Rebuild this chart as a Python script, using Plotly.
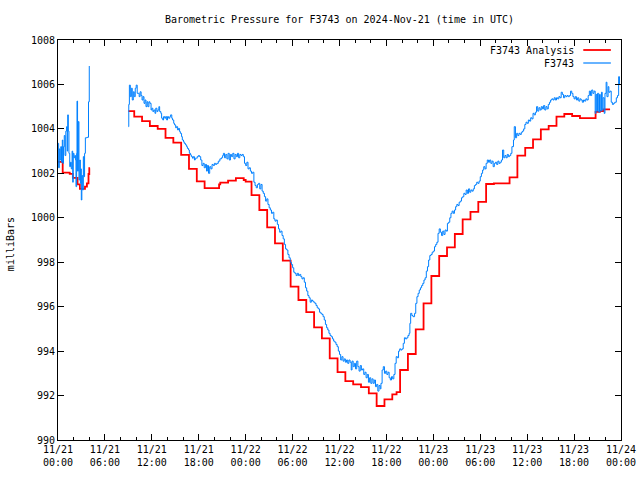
import plotly.graph_objects as go

# ---------------- data (hours since 2024-11-21 00:00 UTC, millibars) ----------------
tick_hours = [0, 6, 12, 18, 24, 30, 36, 42, 48, 54, 60, 66, 72]
tick_labels = ["11/21<br>00:00", "11/21<br>06:00", "11/21<br>12:00", "11/21<br>18:00",
               "11/22<br>00:00", "11/22<br>06:00", "11/22<br>12:00", "11/22<br>18:00",
               "11/23<br>00:00", "11/23<br>06:00", "11/23<br>12:00", "11/23<br>18:00",
               "11/24<br>00:00"]

# F3743 Analysis (step values; None = gap)
analysis_hours = [0, 0.6, 1.5, 1.9, 2.5, 2.8, 3.45, 3.7, 3.9, 4.0, 4.1, 6.0,
                  9.0, 9.75, 10.75, 11.75, 12.75, 13.75, 14.75, 15.75, 16.75, 17.75,
                  18.75, 19.75, 20.6, 20.75, 21.75, 22.75, 23.75, 24.0, 24.75, 25.75,
                  26.75, 27.75, 28.75, 29.75, 30.75, 31.75, 32.75, 33.75, 34.75, 35.75,
                  36.75, 37.75, 38.75, 39.75, 40.75, 41.75, 42.75, 43.3, 43.75, 44.75,
                  45.75, 46.75, 47.75, 48.75, 49.75, 50.75, 51.75, 52.75, 53.75, 54.75,
                  55.75, 56.75, 57.75, 58.75, 59.75, 60.75, 61.75, 62.75, 63.75, 64.75,
                  65.75, 66.75, 67.75, 68.75, 69.3, 69.75, 70.6]
analysis_mbar = [1002.52, 1002.03, 1001.98, 1001.8, 1001.5, 1001.3, 1001.4, 1001.55, 1001.97, 1002.23, 1002.23, None,
                 1004.8, 1004.55, 1004.35, 1004.13, 1004.0, 1003.6, 1003.38, 1002.83, 1002.2, 1001.64,
                 1001.33, 1001.33, 1001.5, 1001.58, 1001.67, 1001.78, 1001.7, 1001.63, 1001.02, 1000.35,
                 999.57, 998.85, 998.07, 996.9, 996.3, 995.75, 995.07, 994.57, 993.67, 993.05,
                 992.65, 992.5, 992.38, 992.1, 991.53, 991.83, 992.05, 992.15, 993.15, 993.87,
                 994.98, 996.15, 997.38, 998.28, 998.67, 999.27, 999.93, 1000.27, 1000.72, 1001.52,
                 1001.55, 1001.55, 1001.82, 1002.8, 1003.15, 1003.53, 1003.98, 1004.14, 1004.55, 1004.67,
                 1004.58, 1004.48, 1004.48, 1004.77, 1004.8, 1004.88, 1004.88]

# F3743 observations
obs_hours = [
    0.0, 0.08, 0.17, 0.25, 0.35, 0.45, 0.55, 0.62, 0.7, 0.8, 0.9, 1.0, 1.1, 1.18, 1.24, 1.32,
    1.4, 1.5, 1.6, 1.7, 1.8, 1.88, 1.95, 2.05, 2.15, 2.25, 2.3, 2.38, 2.43, 2.5, 2.6, 2.68,
    2.78, 2.86, 2.92, 2.98, 3.05, 3.15, 3.24, 3.32, 3.4, 3.5, 3.7, 3.85, 3.9, 4.0, 6.0,
    9.0, 9.05, 9.13, 9.25, 9.38, 9.5, 9.63, 9.75, 9.88, 10.0, 10.13, 10.25, 10.38, 10.5, 10.63,
    10.75, 10.88, 11.0, 11.13, 11.25, 11.38, 11.5, 11.63, 11.75, 11.9, 12.0, 12.13, 12.25, 12.4,
    12.5, 12.65, 12.77, 12.9, 13.0, 13.15, 13.25, 13.4, 13.5, 13.65, 13.77, 13.9, 14.0, 14.15,
    14.3, 14.4, 14.55, 14.65, 14.8, 14.9, 15.05, 15.15, 15.3, 15.4, 15.55, 15.65, 15.8, 15.9,
    16.05, 16.15, 16.3, 16.45, 16.55, 16.7, 16.8, 16.95, 17.05, 17.2, 17.3, 17.45, 17.55, 17.7,
    17.8, 17.95, 18.1, 18.25, 18.4, 18.55, 18.7, 18.85, 19.0, 19.1, 19.25, 19.4, 19.55, 19.7,
    19.85, 20.0, 20.15, 20.3, 20.5, 20.7, 20.9, 21.05, 21.15, 21.3, 21.45, 21.6, 21.75, 21.9,
    22.05, 22.2, 22.35, 22.5, 22.65, 22.8, 22.95, 23.1, 23.25, 23.4, 23.55, 23.7, 23.85, 24.0,
    24.15, 24.3, 24.45, 24.6, 24.75, 24.9, 25.05, 25.2, 25.35, 25.5, 25.65, 25.8, 25.95, 26.1,
    26.25, 26.4, 26.55, 26.7, 26.85, 27.0, 27.15, 27.3, 27.45, 27.6, 27.75, 27.9, 28.05, 28.2,
    28.35, 28.5, 28.65, 28.8, 28.95, 29.1, 29.25, 29.4, 29.55, 29.7, 29.85, 30.0, 30.15, 30.3,
    30.45, 30.6, 30.75, 30.9, 31.05, 31.2, 31.35, 31.5, 31.65, 31.8, 31.95, 32.1, 32.25, 32.4,
    32.55, 32.7, 32.85, 33.0, 33.15, 33.3, 33.45, 33.6, 33.75, 33.9, 34.05, 34.2, 34.35, 34.5,
    34.65, 34.8, 34.95, 35.1, 35.25, 35.4, 35.55, 35.7, 35.85, 36.0, 36.15, 36.3, 36.45, 36.6,
    36.75, 36.9, 37.05, 37.2, 37.35, 37.5, 37.6, 37.75, 37.9, 38.05, 38.2, 38.35, 38.5, 38.65,
    38.8, 38.95, 39.1, 39.25, 39.4, 39.55, 39.7, 39.85, 40.0, 40.15, 40.3, 40.45, 40.6, 40.75,
    40.9, 41.05, 41.2, 41.3, 41.45, 41.6, 41.75, 41.9, 42.05, 42.2, 42.35, 42.5, 42.65, 42.8,
    42.95, 43.1, 43.25, 43.4, 43.55, 43.7, 43.85, 44.0, 44.15, 44.3, 44.45, 44.6, 44.75, 44.9,
    45.0, 45.1, 45.25, 45.4, 45.6, 45.75, 45.9, 46.05, 46.2, 46.35, 46.5, 46.65, 46.8, 46.95,
    47.1, 47.25, 47.4, 47.55, 47.7, 47.85, 48.0, 48.15, 48.3, 48.45, 48.6, 48.75, 48.9, 49.05,
    49.2, 49.35, 49.5, 49.65, 49.8, 49.95, 50.1, 50.25, 50.4, 50.55, 50.7, 50.85, 51.0, 51.15,
    51.3, 51.45, 51.6, 51.75, 51.9, 52.05, 52.2, 52.35, 52.5, 52.65, 52.8, 52.95, 53.1, 53.25,
    53.4, 53.55, 53.7, 53.85, 54.0, 54.15, 54.3, 54.45, 54.6, 54.75, 54.9, 55.05, 55.2, 55.35,
    55.5, 55.65, 55.8, 55.95, 56.1, 56.25, 56.4, 56.55, 56.7, 56.85, 57.0, 57.15, 57.3, 57.45,
    57.6, 57.75, 57.9, 58.05, 58.25, 58.35, 58.5, 58.65, 58.8, 58.95, 59.1, 59.25, 59.4, 59.55,
    59.7, 59.85, 60.0, 60.15, 60.3, 60.45, 60.6, 60.75, 60.9, 61.05, 61.2, 61.35, 61.5, 61.65,
    61.8, 61.95, 62.1, 62.25, 62.4, 62.55, 62.7, 62.85, 63.0, 63.15, 63.3, 63.45, 63.6, 63.75,
    63.9, 64.05, 64.2, 64.35, 64.5, 64.65, 64.8, 64.95, 65.1, 65.25, 65.4, 65.55, 65.7, 65.85,
    66.0, 66.15, 66.3, 66.45, 66.6, 66.75, 66.9, 67.05, 67.2, 67.35, 67.5, 67.65, 67.8, 67.95,
    68.1, 68.25, 68.4, 68.55, 68.7, 68.8, 68.9, 69.0, 69.15, 69.25, 69.35, 69.5, 69.6, 69.7,
    69.85, 69.95, 70.1, 70.2, 70.35, 70.45, 70.6, 70.75, 70.9, 71.05, 71.2, 71.4, 71.55, 71.7,
    71.8]
obs_mbar = [
    1003.35, 1002.25, 1003.1, 1002.6, 1003.2, 1002.5, 1003.5, 1002.45, 1003.2, 1003.7, 1002.8, 1003.9, 1004.1, 1003.0, 1004.63, 1003.9,
    1002.9, 1002.3, 1002.5, 1002.2, 1003.0, 1001.6, 1002.9, 1002.7, 1002.8, 1002.6, 1001.4, 1002.9, 1005.25, 1002.1, 1004.33, 1001.7,
    1002.6, 1001.55, 1002.2, 1000.8, 1001.9, 1001.25, 1002.75, 1001.85, 1002.9, 1003.6, 1003.62, 1003.62, 1005.22, 1006.83, None,
    1004.1, 1005.1, 1005.97, 1005.45, 1005.83, 1005.3, 1005.67, 1005.45, 1005.83, 1005.97, 1005.6, 1005.6, 1005.45, 1005.67, 1005.5,
    1005.3, 1005.45, 1005.15, 1005.3, 1005.0, 1005.22, 1005.0, 1005.22, 1005.15, 1004.85, 1004.93, 1004.78, 1004.85, 1004.7,
    1004.93, 1004.78, 1004.85, 1005.0, 1004.78, 1004.7, 1004.48, 1004.4, 1004.55, 1004.48, 1004.55, 1004.4, 1004.55, 1004.48,
    1004.55, 1004.63, 1004.48, 1004.4, 1004.25, 1004.18, 1004.05, 1004.1, 1003.95, 1004.02, 1003.88, 1003.8, 1003.65, 1003.5,
    1003.42, 1003.35, 1003.28, 1003.2, 1003.12, 1003.05, 1002.9, 1002.83, 1002.75, 1002.68, 1002.75, 1002.6, 1002.68, 1002.68,
    1002.75, 1002.8, 1002.75, 1002.6, 1002.35, 1002.45, 1002.25, 1002.4, 1002.1, 1002.35, 1002.0, 1002.3, 1002.2, 1002.4,
    1002.35, 1002.45, 1002.4, 1002.45, 1002.55, 1002.65, 1002.7, 1002.8, 1002.9, 1002.7, 1002.85, 1002.65, 1002.9, 1002.6,
    1002.85, 1002.75, 1002.9, 1002.65, 1002.85, 1002.75, 1002.9, 1002.7, 1002.85, 1002.8, 1002.85, 1002.75, 1002.45, 1002.35,
    1002.5, 1002.2, 1002.25, 1002.1, 1002.0, 1002.05, 1001.6, 1001.45, 1001.35, 1001.5, 1001.55, 1001.3, 1001.5, 1001.2,
    1001.1, 1000.95, 1000.75, 1000.85, 1000.6, 1000.45, 1000.35, 1000.2, 1000.25, 999.95, 999.85, 999.9, 999.7, 999.5,
    999.35, 999.4, 999.2, 999.05, 998.8, 998.6, 998.55, 998.35, 998.2, 998.0, 997.9, 997.75, 997.55, 997.5,
    997.4, 997.5, 997.4, 997.45, 997.35, 997.25, 997.3, 997.1, 996.85, 996.7, 996.5, 996.4, 996.2, 996.3,
    996.25, 996.2, 996.15, 996.05, 995.95, 995.9, 995.75, 995.7, 995.65, 995.55, 995.4, 995.2, 995.05, 994.95,
    994.8, 994.7, 994.65, 994.55, 994.45, 994.4, 994.3, 994.2, 994.0, 993.85, 993.6, 993.75, 993.55, 993.65,
    993.5, 993.6, 993.45, 993.6, 993.5, 993.15, 993.55, 993.3, 993.45, 993.2, 993.55, 993.3, 993.1, 993.35,
    993.15, 993.2, 992.95, 993.05, 992.8, 992.95, 992.6, 992.8, 992.55, 992.75, 992.55, 992.7, 992.4, 992.5,
    992.2, 992.45, 992.3, 992.55, 993.15, 993.3, 993.0, 993.1, 992.95, 993.05, 992.8, 992.7, 992.85, 992.75,
    992.95, 993.45, 993.75, 993.7, 994.0, 994.1, 994.05, 994.1, 994.35, 994.6, 994.55, 994.6, 994.7, 994.8,
    995.25, 995.7, 995.6, 995.55, 995.7, 996.15, 996.45, 996.6, 996.75, 996.85, 996.95, 997.05, 997.2, 997.3,
    997.6, 997.8, 998.1, 998.3, 998.35, 998.45, 998.5, 998.7, 998.8, 998.9, 999.3, 999.5, 999.35, 999.2,
    999.4, 999.25, 999.45, 999.4, 999.75, 999.8, 1000.0, 1000.2, 1000.3, 1000.2, 1000.35, 1000.5, 1000.6, 1000.55,
    1000.7, 1000.75, 1000.9, 1000.95, 1001.1, 1001.05, 1001.25, 1001.1, 1001.3, 1001.15, 1001.25, 1001.2, 1001.3, 1001.45,
    1001.5, 1001.6, 1001.55, 1001.65, 1001.85, 1002.0, 1002.15, 1002.3, 1002.2, 1002.45, 1002.6, 1002.5, 1002.6, 1002.45,
    1002.55, 1002.3, 1002.45, 1002.5, 1002.4, 1002.55, 1002.45, 1002.5, 1002.6, 1003.05, 1002.7, 1002.8, 1002.7, 1002.85,
    1002.75, 1002.8, 1002.9, 1003.2, 1003.5, 1004.1, 1003.6, 1003.8, 1003.7, 1003.8, 1003.75, 1003.85, 1003.9, 1004.0,
    1004.2, 1004.3, 1004.25, 1004.4, 1004.35, 1004.5, 1004.45, 1004.7, 1004.63, 1004.75, 1005.0, 1004.8, 1004.95, 1004.85,
    1005.0, 1004.9, 1005.05, 1004.85, 1005.0, 1004.9, 1005.1, 1005.2, 1005.3, 1005.35, 1005.3, 1005.4, 1005.3, 1005.4,
    1005.35, 1005.45, 1005.4, 1005.65, 1005.55, 1005.4, 1005.5, 1005.45, 1005.5, 1005.45, 1005.5, 1005.7, 1005.6, 1005.45,
    1005.35, 1005.45, 1005.3, 1005.4, 1005.25, 1005.35, 1005.3, 1005.2, 1005.3, 1005.25, 1005.35, 1005.3, 1005.5, 1005.7,
    1005.5, 1005.75, 1005.6, 1005.7, 1004.7, 1005.55, 1004.8, 1005.6, 1004.75, 1005.55, 1004.8, 1005.65, 1004.85, 1005.4,
    1004.7, 1005.6, 1006.1, 1005.45, 1005.9, 1005.65, 1005.7, 1005.2, 1005.1, 1005.15, 1005.2, 1005.4, 1005.5, 1006.35,
    1006.0]

FONT = "DejaVu Sans Mono"
RED = "#ff0000"
BLUE = "#0080ff"

fig = go.Figure()
fig.add_trace(go.Scatter(x=analysis_hours, y=analysis_mbar, mode="lines", name="F3743 Analysis",
                         line=dict(color=RED, width=1.8, shape="hv"), connectgaps=False))
fig.add_trace(go.Scatter(x=obs_hours, y=obs_mbar, mode="lines", name="F3743",
                         line=dict(color=BLUE, width=1, shape="hv"), connectgaps=False))

# gnuplot-style key (text left of the sample line)
key = [("F3743 Analysis", RED, 0.975, 1.8), ("F3743", BLUE, 0.9425, 1.2)]
for label, col, yy, lw in key:
    fig.add_annotation(x=0.92, y=yy, xref="paper", yref="paper", text=label, showarrow=False,
                       xanchor="right", yanchor="middle", font=dict(family=FONT, size=10, color="black"))
    fig.add_shape(type="line", xref="paper", yref="paper", x0=0.933, x1=0.982, y0=yy, y1=yy,
                  line=dict(color=col, width=lw))

# y-axis label placed like gnuplot's
fig.add_annotation(x=-0.085, y=0.49, xref="paper", yref="paper", text="milliBars", showarrow=False,
                   textangle=-90, xanchor="center", yanchor="middle",
                   font=dict(family=FONT, size=10, color="black"))

fig.update_layout(
    width=640, height=480,
    margin=dict(l=58, r=19, t=40, b=40),
    paper_bgcolor="white", plot_bgcolor="white",
    showlegend=False,
    font=dict(family=FONT, size=10, color="black"),
    title=dict(text="Barometric Pressure for F3743 on 2024-Nov-21 (time in UTC)",
               x=0.5, xanchor="center", xref="paper", y=1 - 19 / 480, yanchor="middle",
               font=dict(family=FONT, size=10, color="black")),
)
fig.update_xaxes(range=[0, 72], tickvals=tick_hours, ticktext=tick_labels, automargin=False,
                 showgrid=False, zeroline=False, showline=True, linecolor="black", linewidth=1,
                 mirror="ticks", ticks="inside", ticklen=6, tickcolor="black",
                 minor=dict(dtick=2, tick0=0, ticks="inside", ticklen=3, tickcolor="black"),
                 tickfont=dict(family=FONT, size=10))
fig.update_yaxes(range=[990, 1008], dtick=2, tick0=990, automargin=False,
                 showgrid=False, zeroline=False, showline=True, linecolor="black", linewidth=1,
                 mirror="ticks", ticks="inside", ticklen=6, tickcolor="black",
                 tickfont=dict(family=FONT, size=10))

fig.write_html("out.html", config={"displayModeBar": False},
               post_script="document.body.style.margin='0';document.body.style.overflow='hidden';")
